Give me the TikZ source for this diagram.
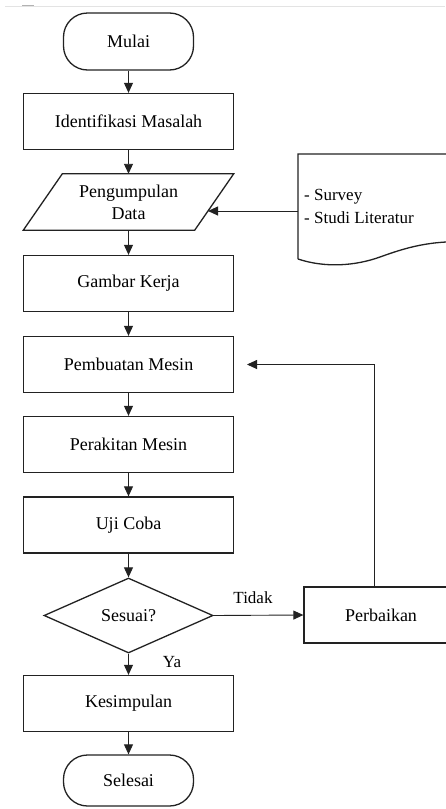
\documentclass[tikz,border=0pt]{standalone}
\usepackage{fontspec}
\setmainfont{Liberation Serif}
\usetikzlibrary{arrows.meta,shapes.geometric}
\definecolor{ln}{HTML}{222222}
\begin{document}
\begin{tikzpicture}[x=1pt,y=-1pt,
  font=\fontsize{18}{21}\selectfont,
  box/.style={draw=ln, line width=1.3pt, minimum width=210pt, minimum height=56pt, inner sep=0pt},
  term/.style={draw=ln, line width=1.3pt, rounded corners=24pt, minimum width=130pt, minimum height=57pt, inner sep=0pt},
  dec/.style={draw=ln, line width=1.3pt, diamond, aspect=2.25, minimum width=169pt, minimum height=75pt, inner sep=0pt},
  arr/.style={-{Triangle[length=10pt,width=9pt]}, line width=0.9pt, draw=ln},
  lbl/.style={inner sep=0pt}]
\useasboundingbox (0,0) rectangle (445,809);
\fill[white] (0,0) rectangle (445,809);
\draw[gray!22, line width=0.8pt] (5,6) -- (445,6);
\draw[gray!60, line width=1pt] (22,5.5) -- (34,5.5);

\node[term] (mulai) at (128.5,41.5) {Mulai};
\node[box] (ident) at (128.5,121.5) {Identifikasi Masalah};
\node[minimum width=210pt, minimum height=56pt, inner sep=0pt, align=center,
      font=\fontsize{18}{22}\selectfont] (pd) at (128.5,202) {Pengumpulan\\Data};
\draw[ln, line width=1.3pt] ([xshift=39pt]pd.north west) -- (pd.north east)
   -- ([xshift=-39pt]pd.south east) -- (pd.south west) -- cycle;
\node[box] (gambar) at (128.5,283.5) {Gambar Kerja};
\node[box] (pemb) at (128.5,364.5) {Pembuatan Mesin};
\node[box] (perak) at (128.5,444.5) {Perakitan Mesin};
\node[box] (uji) at (128.5,525) {Uji Coba};
\node[dec] (sesuai) at (128.5,615.5) {Sesuai?};
\node[box] (kes) at (128.5,703.5) {Kesimpulan};
\node[term, minimum height=51pt] (sel) at (128.5,780.5) {Selesai};
\node[box, minimum width=154pt] (perb) at (381,615) {Perbaikan};

% document shape
\node[minimum width=172pt, minimum height=105pt, inner sep=0pt] (doc) at (384,206.5) {};
\draw[ln, line width=1.3pt] (298,259) -- (298,154) -- (470,154) -- (470,242)
  .. controls (430,240) and (405,248) .. (380,257)
  .. controls (355,266) and (325,268) .. (298,259);
\node[lbl, anchor=west, align=left, font=\fontsize{17}{23}\selectfont] (doctxt) at (304,206) {- Survey\\- Studi Literatur};

% connectors
\draw[arr] (mulai) -- (ident);
\draw[arr] (ident) -- (pd);
\draw[arr] (pd) -- (gambar);
\draw[arr] (gambar) -- (pemb);
\draw[arr] (pemb) -- (perak);
\draw[arr] (perak) -- (uji);
\draw[arr] (uji) -- (sesuai);
\draw[arr] (sesuai) -- (kes);
\draw[arr] (kes) -- (sel);
\draw[arr] (sesuai.east) -- (perb.west);
\coordinate (din) at (298,211);
\coordinate (pin) at (208,211);
\draw[arr] (din) -- (pin);
\coordinate (fbend) at (247,364.5);
\draw[arr] ([xshift=-7pt]perb.north) |- (fbend);

\node[lbl, font=\fontsize{17}{20}\selectfont] (tidak) at (253,598) {Tidak};
\node[lbl, font=\fontsize{17}{20}\selectfont] (ya) at (172,662) {Ya};
\end{tikzpicture}
\end{document}
